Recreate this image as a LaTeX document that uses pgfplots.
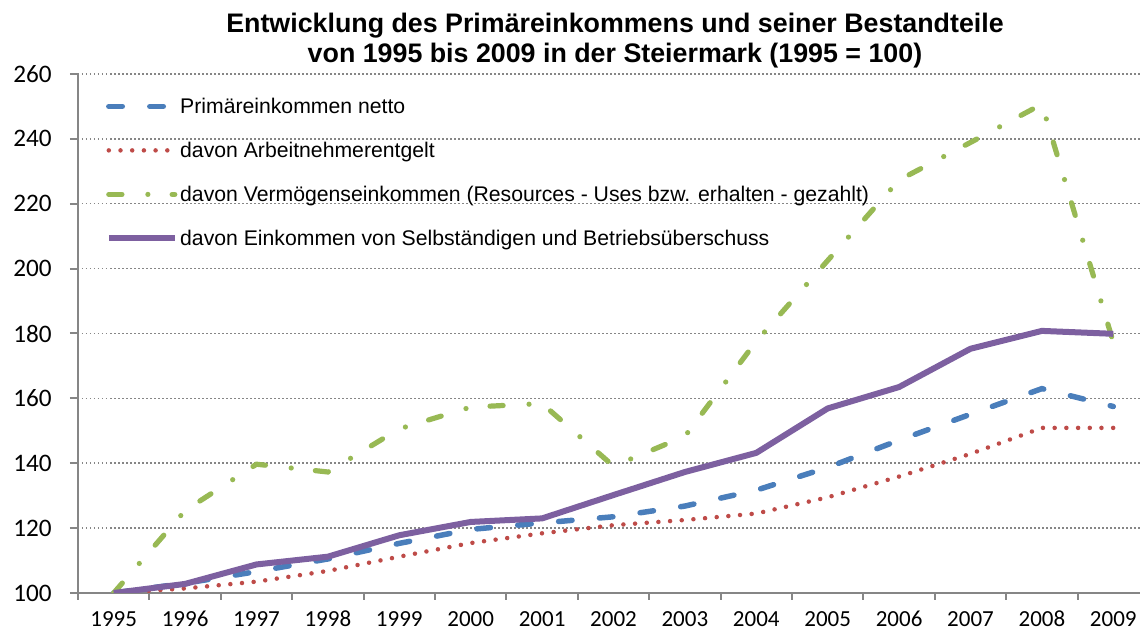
\documentclass[border=0pt]{standalone}
\usepackage{pgfplots}
\pgfplotsset{compat=1.18}
\usepackage{fontspec}
\setmainfont{Liberation Sans}
\newfontfamily\carlito{Carlito}
\definecolor{cblue}{RGB}{74,126,187}
\definecolor{cred}{RGB}{190,75,72}
\definecolor{cgreen}{RGB}{152,185,84}
\definecolor{cpurple}{RGB}{125,96,160}
\definecolor{caxis}{RGB}{134,134,134}
\begin{document}
\begin{tikzpicture}
\useasboundingbox (0,0) rectangle (570pt,315pt);
\begin{axis}[
  at={(39pt,18.5pt)}, anchor=south west,
  scale only axis, width=531pt, height=259.5pt,
  xmin=-0.5, xmax=14.374, ymin=100, ymax=260,
  axis lines*=left,
  axis line style={draw=caxis, line width=1pt},
  xtick={0,...,14},
  xticklabels={1995,1996,1997,1998,1999,2000,2001,2002,2003,2004,2005,2006,2007,2008,2009},
  minor xtick={-0.5,0.5,...,14.5},
  ytick={100,120,...,260},
  tick align=outside,
  major x tick style={draw=none},
  major y tick style={draw=caxis, line width=1pt},
  minor x tick style={draw=caxis, line width=1pt},
  major tick length=4pt, minor tick length=3.5pt,
  ymajorgrids,
  major grid style={draw=caxis, line width=0.75pt, dash pattern=on 0.75pt off 1.25pt},
  /pgf/number format/assume math mode=true,
  ticklabel style={text=black},
  yticklabel style={font=\carlito\fontsize{12.6}{14}\selectfont, inner sep=0pt, anchor=east, xshift=-9pt},
  xticklabel style={font=\carlito\fontsize{11.5}{13}\selectfont, inner sep=0pt, anchor=north, text height=7.3pt, text depth=0pt, yshift=-5.5pt},
  legend cell align=left,
  legend style={at={(rel axis cs:0,1)}, anchor=north west, xshift=13.7pt, yshift=-12.2pt,
    draw=none, fill=none, inner sep=0pt, row sep=14.4pt, column sep=1.2pt,
    font=\fontsize{10.6}{12.7}\selectfont,
    nodes={inner sep=0pt, text height=7.6pt, text depth=0pt}},
  legend image code/.code={\draw (0pt,0pt) -- (33pt,0pt);},
]
\addplot[cblue, line width=2.75pt, line cap=round, dash pattern=on 6.75pt off 13.75pt] coordinates {
(0,100) (1,103) (2,106.6) (3,110.5) (4,115.3) (5,119.6) (6,121.6) (7,123.5) (8,126.8) (9,131.7) (10,138.7) (11,147.1) (12,155.1) (13,163) (14,157.5)};
\addlegendentry{Primäreinkommen netto}
\addplot[cred, line width=2.25pt, line cap=round, dash pattern=on 0pt off 5.85pt] coordinates {
(0,100) (1,101.4) (2,103.5) (3,106.8) (4,111.2) (5,115.4) (6,118.4) (7,120.9) (8,122.5) (9,124.5) (10,129.5) (11,135.9) (12,142.9) (13,150.9) (14,150.9)};
\addlegendentry{davon Arbeitnehmerentgelt}
\addplot[cgreen, line width=2.6pt, line cap=round, dash pattern=on 6.57pt off 12.97pt on 0pt off 12.13pt] coordinates {
(0,100) (1,125.4) (2,139.7) (3,137.3) (4,150.6) (5,157.3) (6,158.4) (7,139.1) (8,148.3) (9,177.6) (10,202.5) (11,227.3) (12,238.9) (13,250.7) (14,177.3)};
\addlegendentry{davon Vermögenseinkommen (Resources - Uses bzw. erhalten - gezahlt)}
\addplot[cpurple, line width=3pt, line join=round] coordinates {
(0,100) (1,102.8) (2,108.8) (3,111.2) (4,117.8) (5,121.9) (6,123) (7,130.2) (8,137.3) (9,143.2) (10,156.9) (11,163.5) (12,175.3) (13,180.8) (14,179.9)};
\addlegendentry{davon Einkommen von Selbständigen und Betriebsüberschuss}
\end{axis}
\node[anchor=base, font=\bfseries\fontsize{13.4}{16}\selectfont] at (307.5pt,298.5pt) {Entwicklung des Primäreinkommens und seiner Bestandteile};
\node[anchor=base, font=\bfseries\fontsize{13.4}{16}\selectfont] at (307.5pt,283.5pt) {von 1995 bis 2009 in der Steiermark (1995 = 100)};
\end{tikzpicture}
\end{document}
